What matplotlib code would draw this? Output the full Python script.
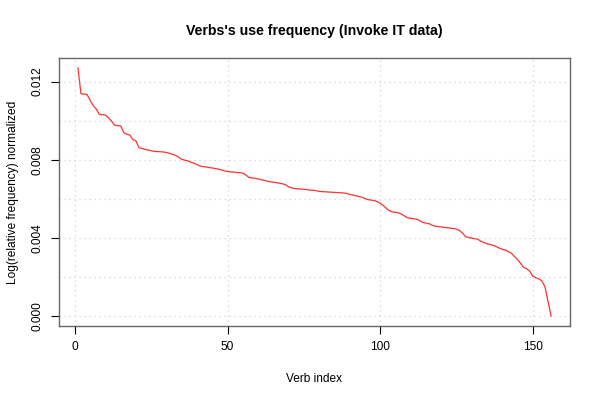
import matplotlib
matplotlib.use("Agg")
import matplotlib.pyplot as plt
import numpy as np

title = "Verbs's use frequency (Invoke IT data)"
xlabel = "Verb index"
ylabel = "Log(relative frequency) normalized"

freq_milli = [
    12.70, 11.38, 11.36, 11.33, 11.05, 10.77, 10.60, 10.32, 10.31, 10.29,
    10.15, 9.98, 9.77, 9.75, 9.73, 9.40, 9.30, 9.27, 9.03, 8.97,
    8.62, 8.58, 8.53, 8.50, 8.46, 8.43, 8.42, 8.41, 8.40, 8.37,
    8.33, 8.28, 8.22, 8.14, 8.02, 7.98, 7.94, 7.88, 7.82, 7.75,
    7.68, 7.65, 7.63, 7.60, 7.58, 7.55, 7.52, 7.48, 7.43, 7.40,
    7.38, 7.37, 7.35, 7.34, 7.32, 7.22, 7.10, 7.07, 7.05, 7.02,
    6.98, 6.95, 6.90, 6.87, 6.85, 6.83, 6.80, 6.77, 6.72, 6.62,
    6.56, 6.53, 6.51, 6.50, 6.49, 6.47, 6.45, 6.44, 6.42, 6.38,
    6.37, 6.36, 6.35, 6.34, 6.33, 6.32, 6.31, 6.30, 6.28, 6.23,
    6.19, 6.16, 6.12, 6.08, 6.02, 5.96, 5.94, 5.91, 5.86, 5.78,
    5.66, 5.52, 5.40, 5.33, 5.31, 5.28, 5.22, 5.12, 5.03, 5.00,
    4.98, 4.96, 4.88, 4.79, 4.76, 4.73, 4.65, 4.60, 4.58, 4.56,
    4.54, 4.52, 4.50, 4.48, 4.45, 4.38, 4.25, 4.06, 4.02, 3.99,
    3.96, 3.93, 3.83, 3.76, 3.70, 3.66, 3.62, 3.56, 3.48, 3.42,
    3.38, 3.30, 3.22, 3.05, 2.90, 2.70, 2.50, 2.42, 2.30, 2.05,
    1.96, 1.90, 1.80, 1.50, 0.75, 0.00,
]
values = np.array(freq_milli) / 1000.0
index = np.arange(1, len(values) + 1)

xticks = [0, 50, 100, 150]
yticks = [0.000, 0.004, 0.008, 0.012]
ytick_labels = ["0.000", "0.004", "0.008", "0.012"]
ygrid = [0.000, 0.002, 0.004, 0.006, 0.008, 0.010, 0.012]

plt.rcParams['font.family'] = ['Liberation Sans', 'DejaVu Sans']

fig = plt.figure(figsize=(6, 4), dpi=100)
ax = fig.add_axes([59/600, 1 - 326/400, (570 - 59)/600, (326 - 58)/400])

ax.plot(index, values, color='#ff3030', linewidth=0.9)

n = len(values)
xr = (n - 1) * 0.04
ax.set_xlim(1 - xr, n + xr)
ymax = values.max()
yr = ymax * 0.04
ax.set_ylim(-yr, ymax + yr)

for gx in xticks:
    ax.axvline(gx, color='#d3d3d3', linestyle=(0, (1, 3)), linewidth=0.9, zorder=0)
for gy in ygrid:
    ax.axhline(gy, color='#d3d3d3', linestyle=(0, (1, 3)), linewidth=0.9, zorder=0)

ax.set_xticks(xticks)
ax.set_xticklabels([str(t) for t in xticks])
ax.set_yticks(yticks)
ax.set_yticklabels(ytick_labels, rotation=90, va='center')
ax.tick_params(direction='out', length=6, width=0.8, labelsize=8.6, colors='black', pad=5)

for s in ax.spines.values():
    s.set_color('#666666')
    s.set_linewidth(1.0)

ax.set_xlabel(xlabel, fontsize=8.6, labelpad=14)
ax.set_ylabel(ylabel, fontsize=8.6, labelpad=9)
fig.text(0.5 * (59 + 570) / 600, 1 - 31/400, title, ha='center', va='center',
         fontsize=10.2, fontweight='bold')

fig.savefig("out.png", dpi=100)
